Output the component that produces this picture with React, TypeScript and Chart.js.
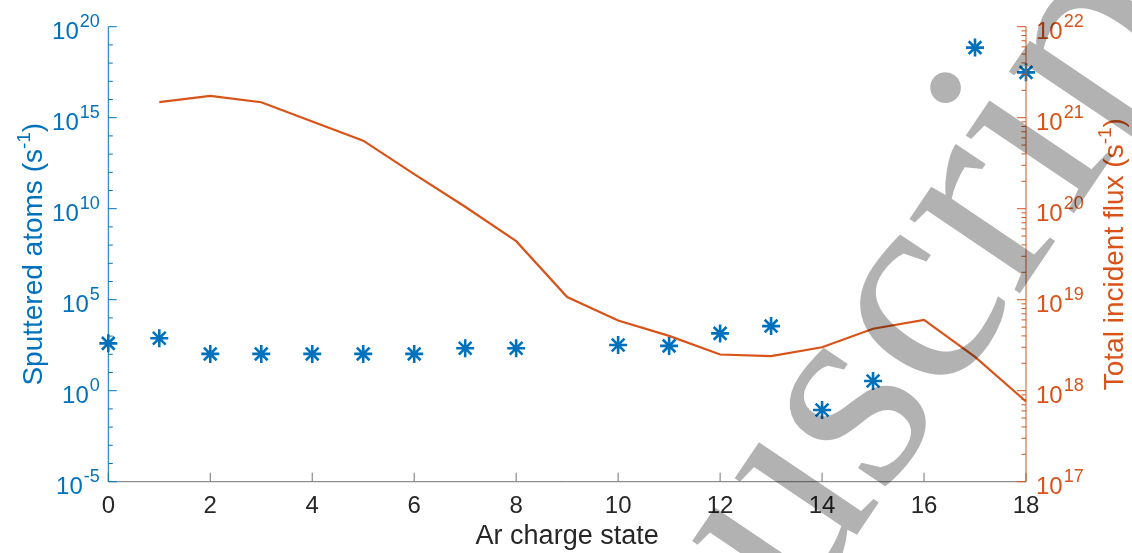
import React, { useEffect, useRef } from 'react';
import { Chart, registerables } from 'chart.js';

Chart.register(...registerables);

// ---------- data ----------
const sputterCharge = [0, 1, 2, 3, 4, 5, 6, 7, 8, 10, 11, 12, 13, 14, 15, 17, 18];
const sputteredAtoms = [400, 760, 105, 105, 105, 105, 105, 215, 215, 325, 290, 1410, 3550, 0.087, 3.4, 7.1e18, 3.1e17];
const fluxCharge = [1, 2, 3, 4, 5, 6, 7, 8, 9, 10, 11, 12, 13, 14, 15, 16, 17, 18];
const incidentFlux = [1.48e21, 1.74e21, 1.48e21, 9.1e20, 5.6e20, 2.4e20, 1.05e20, 4.4e19, 1.07e19, 5.9e18, 4.0e18, 2.5e18, 2.4e18, 3.0e18, 4.8e18, 6.0e18, 2.35e18, 7.6e17];
const xTickValues = [0, 2, 4, 6, 8, 10, 12, 14, 16, 18];
const leftTickExponents = [-5, 0, 5, 10, 15, 20];
const rightTickExponents = [17, 18, 19, 20, 21, 22];
const xTitle = 'Ar charge state';
const leftTitle = ['Sputtered atoms (s', '-1', ')'];
const rightTitle = ['Total incident flux (s', '-1', ')'];
const watermarkText = 'Accepted Manuscript';

const BLUE = '#0072BD';
const ORANGE = '#D95319';
const DARK = '#262626';
const AXIS = '#737373';
const FONT = '"Liberation Sans", Arial, Helvetica, sans-serif';

function line(ctx: CanvasRenderingContext2D, x1: number, y1: number, x2: number, y2: number) {
  ctx.beginPath();
  ctx.moveTo(x1, y1);
  ctx.lineTo(x2, y2);
  ctx.stroke();
}

function drawPow(ctx: CanvasRenderingContext2D, exp: string, x: number, y: number, align: 'left' | 'right') {
  ctx.textAlign = 'left';
  ctx.textBaseline = 'alphabetic';
  ctx.font = `24px ${FONT}`;
  const wb = ctx.measureText('10').width;
  ctx.font = `18px ${FONT}`;
  const we = ctx.measureText(exp).width;
  const start = align === 'right' ? x - wb - we - 1 : x;
  ctx.font = `24px ${FONT}`;
  ctx.fillText('10', start, y + 12.5);
  ctx.font = `18px ${FONT}`;
  ctx.fillText(exp, start + wb + 1, y + 0.5);
}

function drawRotatedTitle(ctx: CanvasRenderingContext2D, parts: string[], cx: number, cy: number, color: string) {
  const size = 28;
  const sup = 19;
  ctx.save();
  ctx.translate(cx, cy);
  ctx.rotate(-Math.PI / 2);
  ctx.fillStyle = color;
  ctx.textAlign = 'left';
  ctx.textBaseline = 'alphabetic';
  ctx.font = `${size}px ${FONT}`;
  const w0 = ctx.measureText(parts[0]).width;
  const w2 = ctx.measureText(parts[2]).width;
  ctx.font = `${sup}px ${FONT}`;
  const w1 = ctx.measureText(parts[1]).width;
  const total = w0 + w1 + w2;
  let xx = -total / 2;
  ctx.font = `${size}px ${FONT}`;
  ctx.fillText(parts[0], xx, 0);
  xx += w0;
  ctx.font = `${sup}px ${FONT}`;
  ctx.fillText(parts[1], xx, -12);
  xx += w1;
  ctx.font = `${size}px ${FONT}`;
  ctx.fillText(parts[2], xx, 0);
  ctx.restore();
}

const axesPlugin = {
  id: 'matlabAxes',
  afterDatasetsDraw(chart: any) {
    const { ctx, chartArea: a, scales } = chart;
    const xs = scales.x;
    const yl = scales.y;
    const yr = scales.y2;
    ctx.save();
    ctx.lineWidth = 1;

    // x axis
    ctx.strokeStyle = AXIS;
    line(ctx, a.left, a.bottom, a.right, a.bottom);
    ctx.fillStyle = DARK;
    ctx.font = `24px ${FONT}`;
    ctx.textAlign = 'center';
    ctx.textBaseline = 'alphabetic';
    for (const v of xTickValues) {
      const px = xs.getPixelForValue(v);
      line(ctx, px, a.bottom, px, a.bottom - 9);
      ctx.fillText(String(v), px, a.bottom + 31.5);
    }
    ctx.font = `27px ${FONT}`;
    ctx.fillText(xTitle, (a.left + a.right) / 2, a.bottom + 62.5);

    // left axis
    ctx.strokeStyle = BLUE;
    ctx.fillStyle = BLUE;
    line(ctx, a.left, a.top, a.left, a.bottom);
    const lmin = Math.round(Math.log10(yl.min));
    const lmax = Math.round(Math.log10(yl.max));
    for (let e = lmin; e <= lmax; e++) {
      const py = yl.getPixelForValue(Math.pow(10, e));
      const major = leftTickExponents.includes(e);
      line(ctx, a.left, py, a.left + (major ? 8.5 : 4.5), py);
    }
    for (const e of leftTickExponents) {
      const py = yl.getPixelForValue(Math.pow(10, e));
      drawPow(ctx, String(e), a.left - 8.5, py, 'right');
    }

    // right axis
    ctx.strokeStyle = ORANGE;
    ctx.fillStyle = ORANGE;
    line(ctx, a.right, a.top, a.right, a.bottom);
    const rmin = Math.round(Math.log10(yr.min));
    const rmax = Math.round(Math.log10(yr.max));
    for (let e = rmin; e <= rmax; e++) {
      const base = Math.pow(10, e);
      const py = yr.getPixelForValue(base);
      line(ctx, a.right, py, a.right - 9, py);
      if (e < rmax) {
        for (let m = 2; m <= 9; m++) {
          const pm = yr.getPixelForValue(base * m);
          line(ctx, a.right, pm, a.right - 4.5, pm);
        }
      }
    }
    for (const e of rightTickExponents) {
      const py = yr.getPixelForValue(Math.pow(10, e));
      drawPow(ctx, String(e), a.right + 10, py, 'left');
    }

    // titles
    drawRotatedTitle(ctx, leftTitle, 42, (a.top + a.bottom) / 2, BLUE);
    drawRotatedTitle(ctx, rightTitle, 1122.5, (a.top + a.bottom) / 2, ORANGE);
    ctx.restore();
  },
  afterDraw(chart: any) {
    const { ctx } = chart;
    ctx.save();
    const S = 290;
    const theta = (-56 * Math.PI) / 180;
    ctx.font = `${S}px "Liberation Serif", "Times New Roman", serif`;
    const xi = ctx.measureText(watermarkText.slice(0, watermarkText.indexOf('ipt'))).width;
    const dx = xi + 0.13 * S;
    const dy = -0.61 * S;
    const tx = 945;
    const ty = 88;
    const c = Math.cos(theta);
    const s = Math.sin(theta);
    const ox = tx - (dx * c - dy * s);
    const oy = ty - (dx * s + dy * c);
    ctx.translate(ox, oy);
    ctx.rotate(theta);
    ctx.fillStyle = 'rgba(0,0,0,0.3)';
    ctx.textAlign = 'left';
    ctx.textBaseline = 'alphabetic';
    ctx.fillText(watermarkText, 0, 0);
    ctx.restore();
  },
};

export default function App() {
  const canvasRef = useRef<HTMLCanvasElement | null>(null);

  useEffect(() => {
    document.body.style.margin = '0';
    const canvas = canvasRef.current;
    if (!canvas) return;
    const chart = new Chart(canvas, {
      type: 'scatter',
      data: {
        datasets: [
          {
            label: 'Sputtered atoms',
            data: sputterCharge.map((x, i) => ({ x, y: sputteredAtoms[i] })),
            yAxisID: 'y',
            pointStyle: 'star',
            pointRadius: 9,
            pointBorderWidth: 2.6,
            borderColor: BLUE,
            backgroundColor: BLUE,
            showLine: false,
            clip: false,
          } as any,
          {
            label: 'Total incident flux',
            data: fluxCharge.map((x, i) => ({ x, y: incidentFlux[i] })),
            yAxisID: 'y2',
            showLine: true,
            borderColor: ORANGE,
            borderWidth: 2.2,
            pointRadius: 0,
            fill: false,
            tension: 0,
            clip: false,
          } as any,
        ],
      },
      options: {
        animation: false,
        responsive: true,
        maintainAspectRatio: false,
        layout: { padding: { top: 26.7, left: 0, right: 0, bottom: 0 } },
        plugins: { legend: { display: false }, tooltip: { enabled: false } },
        scales: {
          x: {
            type: 'linear',
            min: 0,
            max: 18,
            ticks: { display: false, stepSize: 2 },
            grid: { display: false },
            border: { display: false },
            afterFit: (s: any) => { s.height = 553 - 481.7; },
          },
          y: {
            type: 'logarithmic',
            position: 'left',
            min: 1e-5,
            max: 1e20,
            ticks: { display: false },
            grid: { display: false },
            border: { display: false },
            afterFit: (s: any) => { s.width = 108.3; },
          },
          y2: {
            type: 'logarithmic',
            position: 'right',
            min: 1e17,
            max: 1e22,
            ticks: { display: false },
            grid: { display: false },
            border: { display: false },
            afterFit: (s: any) => { s.width = 1132 - 1026; },
          },
        },
      } as any,
      plugins: [axesPlugin],
    });
    return () => chart.destroy();
  }, []);

  return (
    <div style={{ width: '1132px', height: '553px', position: 'relative', background: '#fff' }}>
      <canvas ref={canvasRef} />
    </div>
  );
}
